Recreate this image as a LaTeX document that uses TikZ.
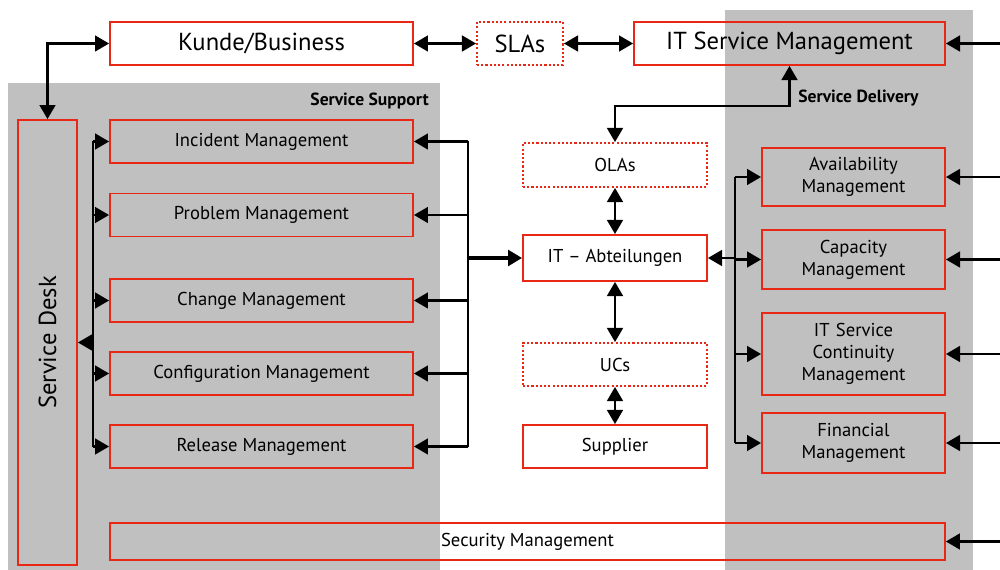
\documentclass[tikz,border=0pt]{standalone}
\usepackage{fontspec}
\setmainfont{PT Sans}
\usetikzlibrary{positioning,arrows.meta}
\definecolor{boxred}{RGB}{232,40,20}
\definecolor{lanegray}{RGB}{192,192,192}
\tikzset{
  box/.style={draw=boxred,line width=1.1pt,inner sep=1pt,align=center,
    font=\fontsize{10.6}{12.6}\selectfont},
  bigbox/.style={box,minimum height=0.86cm,font=\fontsize{14}{16}\selectfont},
  dotbox/.style={dash pattern=on 1.2pt off 1.2pt},
  supbox/.style={box,minimum width=6.06cm,minimum height=0.86cm},
  midbox/.style={box,minimum width=3.68cm},
  delbox/.style={box,minimum width=3.66cm,text width=3.4cm},
  lanelabel/.style={font=\bfseries\fontsize{10}{12}\selectfont,inner sep=0pt},
  wire/.style={line width=1.2pt},
  arr/.style={-{Triangle[length=8pt,width=9pt]},line width=1.2pt},
  darr/.style={{Triangle[length=8pt,width=9pt]}-{Triangle[length=8pt,width=9pt]},line width=1.2pt}
}
\begin{document}
\begin{tikzpicture}[x=0.02cm,y=-0.02cm]
\useasboundingbox (0,0) rectangle (1000,570);
% grey lanes
\fill[lanegray] (8,83) rectangle (440,570);
\fill[lanegray] (725,10) rectangle (973,570);
\node[lanelabel,anchor=east] (18) at (429,101) {Service Support};
\node[lanelabel,anchor=west] (19) at (798,98) {Service Delivery};
% top row
\node[bigbox,minimum width=6.06cm] (0) at (261.5,43.5) {Kunde/Business};
\node[bigbox,dotbox,minimum width=1.72cm] (1) at (520,43.5) {SLAs};
\node[bigbox,minimum width=6.22cm] (2) at (789.5,43.5) {IT Service Management};
\node[box,minimum width=1.18cm,minimum height=8.9cm,font=\fontsize{14}{16}\selectfont] (3) at (47.5,342.5) {\rotatebox{90}{Service Desk}};
% service support
\node[supbox] (4) at (261.5,141.5) {Incident Management};
\node[supbox] (5) at (261.5,215) {Problem Management};
\node[supbox] (6) at (261.5,300.5) {Change Management};
\node[supbox] (7) at (261.5,373.5) {Configuration Management};
\node[supbox] (8) at (261.5,446.5) {Release Management};
\node[box,minimum width=16.7cm,minimum height=0.74cm] (9) at (527.5,541.5) {Security Management};
% middle column
\node[midbox,dotbox,minimum height=0.88cm] (10) at (615,165) {OLAs};
\node[midbox,minimum height=0.92cm] (11) at (615,258) {IT -- Abteilungen};
\node[midbox,dotbox,minimum height=0.86cm] (12) at (615,364.5) {UCs};
\node[midbox,minimum height=0.86cm] (13) at (615,446.5) {Supplier};
% service delivery
\node[delbox,minimum height=1.16cm] (14) at (853.5,177) {Availability\\Management};
\node[delbox,minimum height=1.18cm] (15) at (853.5,259.5) {Capacity\\Management};
\node[delbox,minimum height=1.64cm] (16) at (853.5,354) {IT Service\\Continuity\\Management};
\node[delbox,minimum height=1.2cm] (17) at (853.5,443) {Financial\\Management};
% connectors
\draw[darr] (0.west) -| (3.north);
\draw[darr] (0) to (1);
\draw[darr] (1) to (2);
\draw[darr] (2.south) -- ++(0,40) -| (10.north);
\draw[darr] (10) to (11);
\draw[darr] (11) to (12);
\draw[darr] (12) to (13);
% bus to service support
\coordinate (b1) at (468,258);
\draw[wire] (b1 |- 4.east) -- (b1 |- 8.east);
\foreach \n in {4,...,8} \draw[arr] (b1 |- \n.east) to (\n.east);
\draw[arr,line width=1.8pt] (b1) to (11.west);
% bus from service desk
\coordinate (b2) at (93,342.5);
\draw[wire] (b2 |- 4.west) -- (b2 |- 8.west);
\foreach \n in {4,...,8} \draw[arr] (b2 |- \n.west) to (\n.west);
\draw[arr] (b2) to (b2 -| 3.east);
% bus to service delivery
\coordinate (b3) at (735,258);
\draw[wire] (b3 |- 14.west) -- (b3 |- 17.west);
\foreach \n in {14,...,17} \draw[arr] (b3 |- \n.west) to (\n.west);
\draw[arr] (b3) to (b3 -| 11.east);
% from the right edge
\coordinate (e) at (1000,0);
\foreach \n in {2,14,15,16,17,9} \draw[arr] (e |- \n.east) to (\n.east);
\end{tikzpicture}
\end{document}
